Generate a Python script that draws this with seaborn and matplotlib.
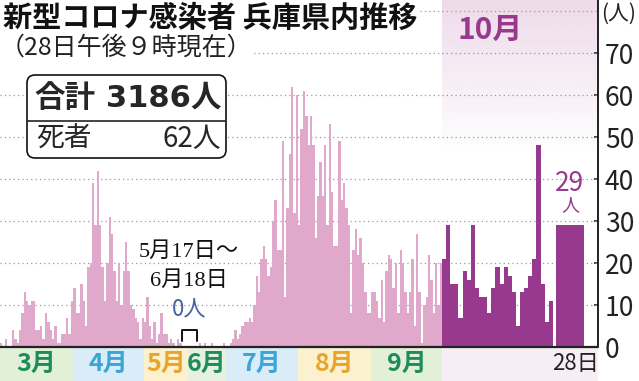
import numpy as np
import matplotlib
matplotlib.use("Agg")
import matplotlib.pyplot as plt
from matplotlib.patches import Rectangle, FancyBboxPatch
from matplotlib.colors import to_rgb
import seaborn as sns

# daily new cases, Mar 1 - May 16
cases_mar_may = [1, 0, 2, 0, 0, 4, 2, 1, 4, 8, 13, 11, 10, 11, 11, 4, 4, 5, 2, 8,
                 6, 4, 2, 5, 1, 1, 3, 3, 7, 3, 11, 14, 8, 8, 15, 11, 5, 19, 20,
                 39, 29, 42, 29, 19, 11, 20, 31, 27, 18, 11, 20, 10, 18, 25, 18, 10,
                 9, 7, 6, 2, 7, 6, 12, 5, 2, 6, 1, 3, 8, 3, 3, 1, 2, 1, 0, 2, 1]
# May 17 - Jun 18: no cases (drawn compressed)
zero_days = 33
# daily new cases, Jun 19 - Sep 30
cases_jun_sep = [0, 1, 0, 1, 0, 0, 1, 0, 0, 0, 0, 1,
                 0, 0, 1, 2, 4, 2, 3, 5, 6, 6, 7,
                 6, 10, 17, 13, 21, 24, 21, 17, 19,
                 30, 35, 23, 23, 49, 12, 33, 46, 62, 32, 60, 29, 52, 61, 55, 48, 55,
                 48, 26, 36, 44, 36, 48, 29, 53, 37, 24, 24, 49, 35, 39, 33, 29,
                 8, 23, 28, 22, 26, 20, 13, 8, 8, 13, 13, 11, 7, 16, 6, 18, 22, 21,
                 14, 20, 8, 23, 20, 13, 8, 13, 21, 5, 27, 13, 1, 10, 12, 22, 16, 8,
                 20, 10, 20]
# October 1 - 27, and the 28th
cases_oct = [21, 29, 15, 15, 7, 18, 16, 29, 14, 12, 12, 8, 14, 19, 15, 19, 17, 13,
             5, 13, 14, 17, 21, 48, 15, 6, 11]
cases_oct28 = 29

month_days = [31, 30, 31, 30, 31, 31, 30]  # Mar .. Sep
month_labels = ["3月", "4月", "5月", "6月", "7月", "8月", "9月"]
month_text_colors = ["#1f8c5c", "#3aa5d6", "#e8a52a", "#1f8c5c", "#3aa5d6", "#e8a52a", "#1f8c5c"]
month_band_colors = ["#e2f0d8", "#d9ecf8", "#fcf1cf", "#e6f2df", "#d9ecf8", "#fcf1cf", "#e2f0d8"]
yticks = [0, 10, 20, 30, 40, 50, 60, 70]
grid_levels = [10, 20, 30, 40, 50, 60, 70, 80]

sns.set_theme(style="white")
plt.rcParams["font.family"] = ["Noto Sans CJK JP", "DejaVu Sans"]

PINK = "#e0a8cb"
PURPLE = "#973a8d"

W, H = 639, 381
PX = 2.36      # pixels per ordinary day
PPU = 4.2      # pixels per case
BASE = 347     # baseline row in pixels
GAP = 6.3      # width of the compressed zero period
OCT_W = 1.74   # October days drawn wider
YTOP = BASE / PPU
YBOT = -(H - BASE) / PPU
XMAX = 598 / PX

fig = plt.figure(figsize=(W / 100, H / 100), dpi=100)
ax = fig.add_axes([0, 0, 598 / W, 1])

n1 = len(cases_mar_may)
x_a = np.arange(n1)
x_b = n1 + GAP + np.arange(len(cases_jun_sep))
oct_start = x_b[-1] + 1
x_o = oct_start + OCT_W * np.arange(len(cases_oct))
x_28 = x_o[-1] + OCT_W + 1.3
w_28 = 11.9


def day_x(d):
    if d <= n1:
        return d
    if d <= n1 + zero_days:
        return n1 + GAP * (d - n1) / zero_days
    return n1 + GAP + (d - n1 - zero_days)


def fx(px):
    return px / W


def fy(py):
    return 1 - py / H


# October background gradient
grad = np.ones((100, 1, 4))
grad[..., :3] = to_rgb("#eedbea")
grad[:, 0, 3] = np.linspace(1, 0, 100)
ax.imshow(grad, extent=[oct_start, XMAX, 46, YTOP], aspect="auto", origin="upper", zorder=0)

# dotted grid
for g in grid_levels:
    ax.axhline(g, color="#999999", lw=0.9, ls=(0, (1, 2.5)), zorder=1)

# bars
ax.bar(x_a, cases_mar_may, width=1, align="edge", color=PINK, lw=0, zorder=3)
ax.bar(x_b, cases_jun_sep, width=1, align="edge", color=PINK, lw=0, zorder=3)
ax.bar(x_o, cases_oct, width=OCT_W, align="edge", color=PURPLE, lw=0, zorder=3)
ax.bar([x_28], [cases_oct28], width=w_28, align="edge", color=PURPLE, lw=0, zorder=3)

# month bands below the axis
starts = np.concatenate([[0], np.cumsum(month_days)])
for i, lab in enumerate(month_labels):
    x0, x1 = day_x(starts[i]), day_x(starts[i + 1])
    ax.add_patch(Rectangle((x0, YBOT), x1 - x0, -YBOT, color=month_band_colors[i], lw=0, zorder=2))
    ax.text((x0 + x1) / 2, YBOT / 2, lab, ha="center", va="center", fontsize=18,
            fontweight="bold", color=month_text_colors[i], zorder=5)
ax.add_patch(Rectangle((oct_start, YBOT), XMAX - oct_start, -YBOT, color="#f7edf4", lw=0, zorder=2))
ax.text(x_28 + w_28 / 2 + 2.5, YBOT / 2, "28日", ha="center", va="center", fontsize=16,
        color="#222222", zorder=5, clip_on=False)

ax.axhline(0, color="#222222", lw=1.6, zorder=4)

# zero period bracket and note
bx0, bx1 = day_x(n1), day_x(n1 + zero_days)
ax.plot([bx0, bx0, bx1, bx1], [1.5, 4, 4, 1.5], color="#111111", lw=1.4, zorder=5)
ax.text((bx0 + bx1) / 2, 22.5, "5月17日〜", ha="center", va="center", fontsize=16,
        family=["Liberation Serif", "Noto Sans CJK JP"], color="#111111", zorder=5)
ax.text((bx0 + bx1) / 2, 15.8, "6月18日", ha="center", va="center", fontsize=16,
        family=["Liberation Serif", "Noto Sans CJK JP"], color="#111111", zorder=5)
ax.text((bx0 + bx1) / 2, 8.8, "0人", ha="center", va="center", fontsize=16,
        color="#4a62a0", zorder=5)

# latest value
ax.text(x_28 + w_28 / 2, cases_oct28 + 10, "29", ha="center", va="center",
        fontsize=19, color=PURPLE, zorder=5)
ax.text(x_28 + w_28 / 2, cases_oct28 + 4.8, "人", ha="center", va="center",
        fontsize=13, color=PURPLE, zorder=5)

ax.set_xlim(0, XMAX)
ax.set_ylim(YBOT, YTOP)
ax.set_xticks([])
for s in ["left", "top", "bottom"]:
    ax.spines[s].set_visible(False)
ax.spines["right"].set_bounds(0, YTOP)
ax.spines["right"].set_color("#111111")
ax.spines["right"].set_linewidth(1.3)
ax.yaxis.tick_right()
ax.set_yticks(yticks)
ax.tick_params(axis="y", direction="in", length=3, width=1.1, color="#111111",
               pad=5, labelsize=19, labelcolor="#222222")
ax.set_facecolor("white")

# titles
fig.text(fx(3), fy(18), "新型コロナ感染者 兵庫県内推移", fontsize=21, fontweight="bold",
         ha="left", va="center", color="#111111",
         bbox=dict(fc="white", ec="none", pad=2), zorder=5)
fig.text(fx(0), fy(48), "（28日午後９時現在）", fontsize=18, ha="left", va="center",
         color="#222222", bbox=dict(fc="white", ec="none", pad=1), zorder=5)
ax.text(fx(457) / (598 / W), fy(30), "10月", transform=ax.transAxes, fontsize=21.5,
        fontweight="bold", color=PURPLE, ha="left", va="center", zorder=5)
fig.text(fx(619), fy(14), "(人)", fontsize=15, ha="center", va="center", color="#222222")

# totals box
box = FancyBboxPatch((27 / 100, (H - 158) / 100), 199 / 100, 83 / 100,
                     boxstyle="round,pad=0,rounding_size=0.08",
                     transform=fig.dpi_scale_trans, fc="white", ec="#111111", lw=1.2, zorder=4)
fig.add_artist(box)
fig.add_artist(plt.Line2D([fx(28), fx(225)], [fy(121), fy(121)], color="#111111", lw=1.1, zorder=5))
fig.text(fx(34), fy(98), "合計", fontsize=22, fontweight="bold", ha="left", va="center", zorder=6)
fig.text(fx(221), fy(98), "3186人", fontsize=22, fontweight="bold", ha="right", va="center",
         family=["DejaVu Sans", "Noto Sans CJK JP"], zorder=6)
fig.text(fx(36), fy(139), "死者", fontsize=20, ha="left", va="center", zorder=6)
fig.text(fx(221), fy(139), "62人", fontsize=20, ha="right", va="center", zorder=6)

fig.savefig("out.png", dpi=100)
